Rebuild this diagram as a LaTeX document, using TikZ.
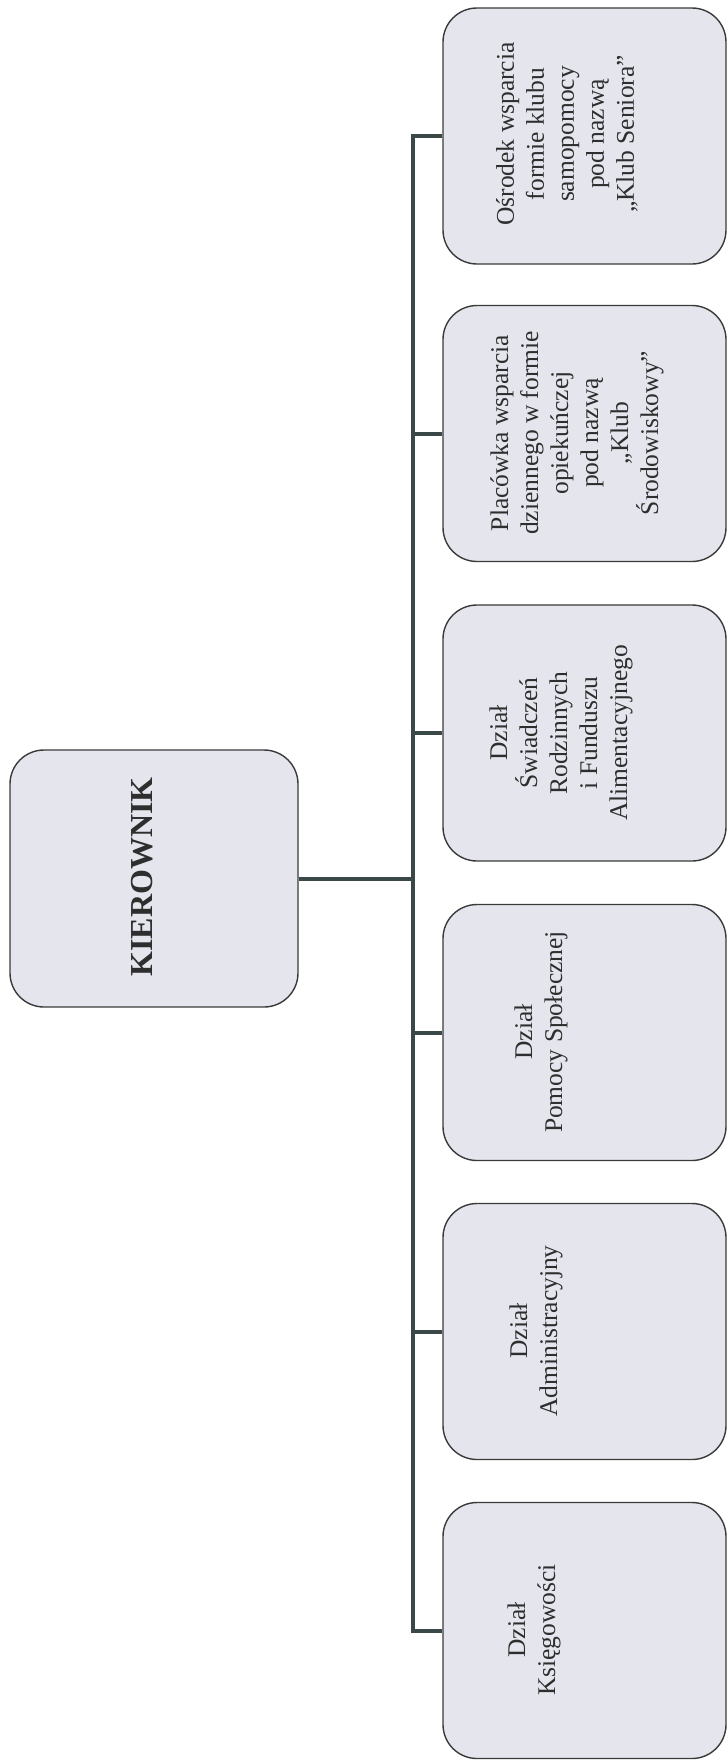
\documentclass[tikz,border=0pt]{standalone}
\usepackage{fontspec}
\setmainfont{Liberation Serif}
\definecolor{boxfill}{HTML}{E5E6ED}
\definecolor{boxdraw}{HTML}{3A3A3A}
\definecolor{linecol}{HTML}{3B4848}
\definecolor{txtcol}{HTML}{2E2E2E}
\tikzset{
  orgbox/.style={draw=boxdraw, line width=1.4pt, fill=boxfill, rounded corners=34pt,
    minimum width=283pt, minimum height=256pt, inner sep=0pt, anchor=center},
  bossbox/.style={orgbox, minimum width=288pt, minimum height=257pt},
  orgtxt/.style={rotate=90, align=center, inner sep=0pt, text=txtcol,
    font=\fontsize{25.5}{30}\selectfont},
  bosstxt/.style={rotate=90, align=center, inner sep=0pt, text=txtcol,
    font=\fontsize{32}{36}\selectfont\bfseries},
  link/.style={draw=linecol, line width=4pt, line join=miter}
}
\begin{document}
\begin{tikzpicture}[x=1pt, y=-1pt]
\useasboundingbox (0,0) rectangle (728,1762);
% boxes
\node[bossbox] (k) at (154,878.5) {};
\node[orgbox] (b1) at (584.5,136) {};
\node[orgbox] (b2) at (584.5,433.5) {};
\node[orgbox] (b3) at (584.5,733) {};
\node[orgbox] (b4) at (584.5,1032.5) {};
\node[orgbox] (b5) at (584.5,1331.5) {};
\node[orgbox] (b6) at (584.5,1630.5) {};
% texts
\node[bosstxt] (tk) at (142,877) {KIEROWNIK};
\node[orgtxt] (t1) at (567,134) {Ośrodek wsparcia\\formie klubu\\samopomocy\\pod nazwą\\„Klub Seniora”};
\node[orgtxt] (t2) at (577,433) {Placówka wsparcia\\dziennego w formie\\opiekuńczej\\pod nazwą\\„Klub\\Środowiskowy”};
\node[orgtxt] (t3) at (561,733) {Dział\\Świadczeń\\Rodzinnych\\i Funduszu\\Alimentacyjnego};
\node[orgtxt] (t4) at (541,1032) {Dział\\Pomocy Społecznej};
\node[orgtxt] (t5) at (536,1331) {Dział\\Administracyjny};
\node[orgtxt] (t6) at (534,1630) {Dział\\Księgowości};
% connectors
\coordinate (sp) at (413,0);
\draw[link] (k.east) -- (k.east -| sp);
\draw[link] (b1.west) -- (b1.west -| sp) -- (b6.west -| sp) -- (b6.west);
\draw[link] (b2.west) -- (b2.west -| sp);
\draw[link] (b3.west) -- (b3.west -| sp);
\draw[link] (b4.west) -- (b4.west -| sp);
\draw[link] (b5.west) -- (b5.west -| sp);
\end{tikzpicture}
\end{document}
